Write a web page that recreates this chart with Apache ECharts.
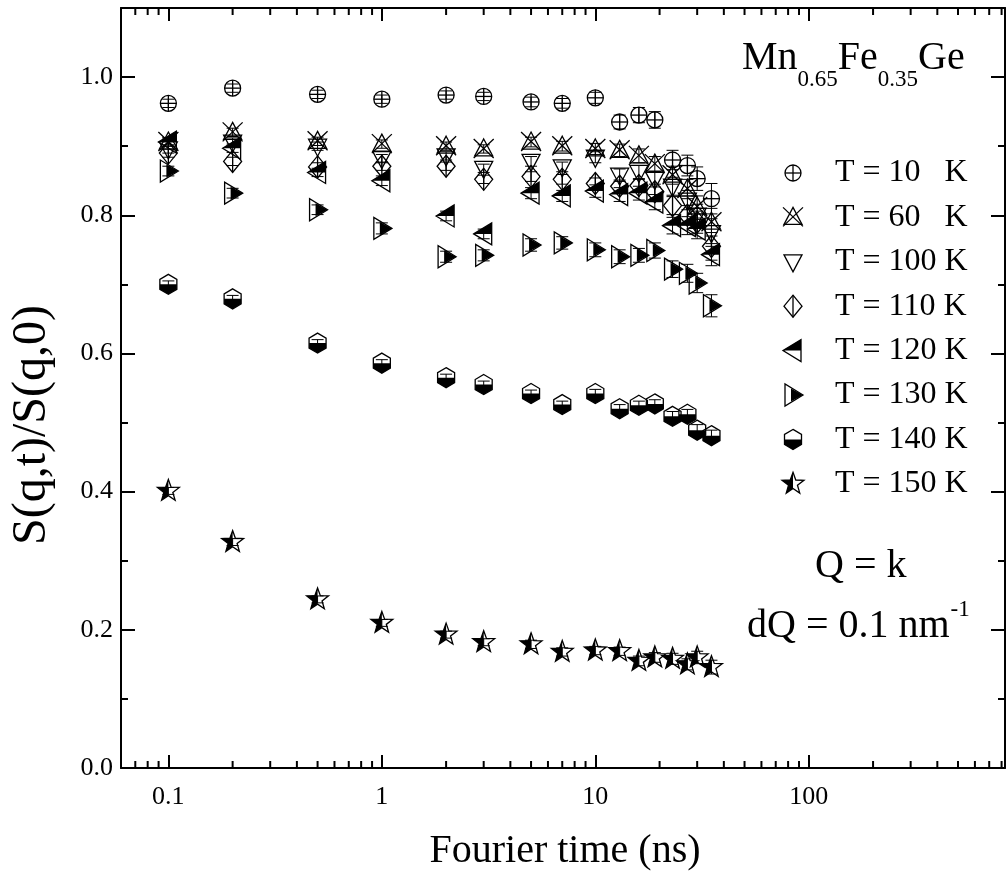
<!DOCTYPE html>
<html><head><meta charset="utf-8">
<script src="https://cdn.jsdelivr.net/npm/echarts@6/dist/echarts.min.js"></script>
<style>html,body{margin:0;padding:0;background:#fff}#c{width:1007px;height:877px}</style>
</head><body><div id="c"></div><script>
// ---------------- data ----------------
const times = [0.1, 0.2, 0.5, 1, 2, 3, 5, 7, 10, 13, 16, 19, 23, 27, 30, 35];
const s10K  = [0.962, 0.984, 0.975, 0.968, 0.974, 0.972, 0.964, 0.962, 0.970, 0.935, 0.945, 0.938, 0.880, 0.872, 0.853, 0.824];
const s60K  = [0.906, 0.920, 0.907, 0.903, 0.900, 0.896, 0.906, 0.900, 0.896, 0.894, 0.886, 0.874, 0.858, 0.838, 0.812, 0.790];
const s100K = [0.896, 0.906, 0.900, 0.882, 0.886, 0.868, 0.878, 0.870, 0.884, 0.858, 0.862, 0.852, 0.842, 0.822, 0.800, 0.775];
const s110K = [0.890, 0.878, 0.870, 0.871, 0.871, 0.852, 0.856, 0.852, 0.846, 0.842, 0.843, 0.834, 0.814, 0.800, 0.790, 0.755];
const s120K = [0.906, 0.897, 0.862, 0.850, 0.799, 0.773, 0.832, 0.828, 0.835, 0.830, 0.832, 0.819, 0.785, 0.785, 0.780, 0.743];
const s130K = [0.864, 0.832, 0.808, 0.781, 0.740, 0.742, 0.757, 0.760, 0.750, 0.740, 0.742, 0.749, 0.722, 0.716, 0.702, 0.669];
const s140K = [0.700, 0.679, 0.615, 0.586, 0.565, 0.555, 0.542, 0.526, 0.542, 0.520, 0.525, 0.527, 0.509, 0.512, 0.489, 0.481];
const s150K = [0.401, 0.327, 0.244, 0.210, 0.193, 0.182, 0.179, 0.168, 0.170, 0.169, 0.155, 0.160, 0.158, 0.150, 0.160, 0.146];
// error bars (half widths)
const e10K  = [0.006, 0.006, 0.006, 0.006, 0.006, 0.006, 0.007, 0.007, 0.008, 0.010, 0.011, 0.012, 0.014, 0.015, 0.017, 0.022];
const e60K  = [0.006, 0.006, 0.006, 0.006, 0.006, 0.006, 0.007, 0.007, 0.008, 0.009, 0.010, 0.011, 0.013, 0.014, 0.016, 0.020];
const e100K = [0.006, 0.006, 0.006, 0.006, 0.006, 0.006, 0.007, 0.007, 0.008, 0.009, 0.010, 0.011, 0.013, 0.014, 0.016, 0.020];
const e110K = [0.006, 0.006, 0.006, 0.006, 0.006, 0.006, 0.007, 0.007, 0.008, 0.009, 0.010, 0.011, 0.013, 0.014, 0.016, 0.020];
const e120K = [0.006, 0.006, 0.006, 0.007, 0.007, 0.007, 0.008, 0.008, 0.009, 0.010, 0.010, 0.011, 0.012, 0.013, 0.014, 0.016];
const e130K = [0.007, 0.007, 0.007, 0.008, 0.008, 0.008, 0.009, 0.009, 0.010, 0.010, 0.010, 0.011, 0.012, 0.013, 0.014, 0.016];
const e140K = [0.005, 0.005, 0.005, 0.005, 0.005, 0.005, 0.005, 0.005, 0.006, 0.006, 0.006, 0.006, 0.007, 0.007, 0.008, 0.008];
const e150K = [0.005, 0.005, 0.005, 0.005, 0.005, 0.005, 0.006, 0.006, 0.006, 0.006, 0.007, 0.007, 0.008, 0.008, 0.009, 0.010];
const seriesNames = ['T = 10   K', 'T = 60   K', 'T = 100 K', 'T = 110 K', 'T = 120 K', 'T = 130 K', 'T = 140 K', 'T = 150 K'];
const xMajorLabels = [0.1, 1, 10, 100];
const xMinorTicks = [0.07, 0.08, 0.09, 0.2, 0.3, 0.4, 0.5, 0.6, 0.7, 0.8, 0.9, 2, 3, 4, 5, 6, 7, 8, 9,
  20, 30, 40, 50, 60, 70, 80, 90, 200, 300, 400, 500, 600, 700, 800];

// ---------------- drawing ----------------
const FONT = '"Liberation Serif","Times New Roman",Times,serif';
const LW = 1.3;
function st(fill) { return { stroke: '#000', lineWidth: LW, fill: fill || 'none' }; }
function starPts(R, r) {
  const p = [];
  for (let k = 0; k < 10; k++) {
    const a = (-90 + 36 * k) * Math.PI / 180;
    const rr = k % 2 === 0 ? R : r;
    p.push([rr * Math.cos(a), rr * Math.sin(a)]);
  }
  return p;
}
function symbolChildren(kind) {
  const c = [];
  switch (kind) {
    case 'circlePlus':
      c.push({ type: 'circle', shape: { cx: 0, cy: 0, r: 8 }, style: st('none') });
      c.push({ type: 'line', shape: { x1: -8, y1: 0, x2: 8, y2: 0 }, style: st() });
      c.push({ type: 'line', shape: { x1: 0, y1: -8, x2: 0, y2: 8 }, style: st() });
      break;
    case 'triX':
      c.push({ type: 'polygon', shape: { points: [[0, -10], [9, 7], [-9, 7]] }, style: st('none') });
      c.push({ type: 'line', shape: { x1: -10, y1: -10, x2: 10, y2: 9 }, style: st() });
      c.push({ type: 'line', shape: { x1: 10, y1: -10, x2: -10, y2: 9 }, style: st() });
      break;
    case 'triDown':
      c.push({ type: 'polygon', shape: { points: [[-9, -7], [9, -7], [0, 10]] }, style: st('none') });
      break;
    case 'diamond':
      c.push({ type: 'polygon', shape: { points: [[0, -11], [9, 0], [0, 11], [-9, 0]] }, style: st('none') });
      c.push({ type: 'line', shape: { x1: 0, y1: -11, x2: 0, y2: 11 }, style: st() });
      break;
    case 'triLeft':
      c.push({ type: 'polygon', shape: { points: [[-10, 0], [8, -11], [8, 0]] }, style: { fill: '#000' } });
      c.push({ type: 'polygon', shape: { points: [[-10, 0], [8, -11], [8, 11]] }, style: st('none') });
      break;
    case 'triRight':
      c.push({ type: 'polygon', shape: { points: [[-2, -6.5], [10, 0], [-2, 6.5]] }, style: { fill: '#000' } });
      c.push({ type: 'polygon', shape: { points: [[10, 0], [-8, -11], [-8, 11]] }, style: st('none') });
      break;
    case 'hex': {
      const w = 8.5;
      c.push({ type: 'polygon', shape: { points: [[-w, 0], [w, 0], [w, 5], [0, 10], [-w, 5]] }, style: { fill: '#000' } });
      c.push({ type: 'polygon', shape: { points: [[0, -10], [w, -5], [w, 5], [0, 10], [-w, 5], [-w, -5]] }, style: st('none') });
      break;
    }
    case 'star': {
      const p = starPts(11.5, 4.7);
      const left = [p[0], p[9], p[8], p[7], p[6], p[5]];
      c.push({ type: 'polygon', shape: { points: left }, style: { fill: '#000' } });
      c.push({ type: 'polygon', shape: { points: p }, style: st('none') });
      break;
    }
  }
  return c;
}
const kinds = ['circlePlus', 'triX', 'triDown', 'diamond', 'triLeft', 'triRight', 'hex', 'star'];
const vals = [s10K, s60K, s100K, s110K, s120K, s130K, s140K, s150K];
const errs = [e10K, e60K, e100K, e110K, e120K, e130K, e140K, e150K];

function makeSeries(i) {
  const kind = kinds[i];
  return {
    type: 'custom', name: seriesNames[i], xAxisIndex: 0, yAxisIndex: 0, z: 10 + i,
    data: times.map((t, j) => [t, vals[i][j], errs[i][j]]),
    renderItem: function (params, api) {
      const x = api.value(0), y = api.value(1), e = api.value(2);
      const p = api.coord([x, y]);
      const top = api.coord([x, y + e])[1];
      const bot = api.coord([x, y - e])[1];
      const ls = { stroke: '#000', lineWidth: 1 };
      return {
        type: 'group', children: [
          { type: 'line', shape: { x1: p[0], y1: top, x2: p[0], y2: bot }, style: ls },
          { type: 'line', shape: { x1: p[0] - 6, y1: top, x2: p[0] + 6, y2: top }, style: ls },
          { type: 'line', shape: { x1: p[0] - 6, y1: bot, x2: p[0] + 6, y2: bot }, style: ls },
          { type: 'group', x: p[0], y: p[1], children: symbolChildren(kind) }
        ]
      };
    }
  };
}

const minorTickSeries = {
  type: 'custom', xAxisIndex: 0, yAxisIndex: 0, silent: true, clip: false, z: 5,
  data: xMinorTicks.map(v => [v, 0.5]),
  renderItem: function (params, api) {
    const cs = params.coordSys;
    const x = api.coord([api.value(0), 0.5])[0];
    const s = { stroke: '#000', lineWidth: 2 };
    return {
      type: 'group', children: [
        { type: 'line', shape: { x1: x, y1: cs.y + cs.height, x2: x, y2: cs.y + cs.height - 7 }, style: s },
        { type: 'line', shape: { x1: x, y1: cs.y, x2: x, y2: cs.y + 7 }, style: s }
      ]
    };
  }
};

// text measuring helper for composed texts (sub/superscripts)
const mctx = document.createElement('canvas').getContext('2d');
function tw(txt, size) { mctx.font = size + 'px ' + FONT; return mctx.measureText(txt).width; }
function composed(x0, segs) {
  const out = []; let x = x0;
  segs.forEach(s => {
    out.push({ type: 'text', x: x, y: s.y, style: { text: s.t, font: s.size + 'px ' + FONT, fill: '#000', align: 'left', verticalAlign: 'middle' } });
    x += tw(s.t, s.size) + (s.gap || 0);
  });
  return out;
}

const graphics = [];
// title formula
composed(742, [
  { t: 'Mn', size: 40, y: 58 }, { t: '0.65', size: 23, y: 80 },
  { t: 'Fe', size: 40, y: 58 }, { t: '0.35', size: 23, y: 80 },
  { t: 'Ge', size: 40, y: 58 }
]).forEach(g => graphics.push(g));
// Q = k
graphics.push({ type: 'text', x: 815, y: 566, style: { text: 'Q = k', font: '40px ' + FONT, fill: '#000', align: 'left', verticalAlign: 'middle' } });
composed(747, [{ t: 'dQ = 0.1 nm', size: 40, y: 626, gap: 1 }, { t: '-1', size: 23, y: 610 }]).forEach(g => graphics.push(g));
// legend
const legendY0 = 173, legendDy = 44.4;
seriesNames.forEach((n, i) => {
  const y = legendY0 + i * legendDy;
  graphics.push({ type: 'group', x: 793, y: y, children: symbolChildren(kinds[i]) });
  graphics.push({ type: 'text', x: 835, y: y, style: { text: n, font: '32px ' + FONT, fill: '#000', align: 'left', verticalAlign: 'middle' } });
});
// axis titles
graphics.push({ type: 'text', x: 565, y: 851, style: { text: 'Fourier time (ns)', font: '40px ' + FONT, fill: '#000', align: 'center', verticalAlign: 'middle' } });
graphics.push({ type: 'text', x: 32, y: 425, rotation: Math.PI / 2, style: { text: 'S(q,t)/S(q,0)', font: '48px ' + FONT, fill: '#000', align: 'center', verticalAlign: 'middle' } });

function axisLineCfg() { return { show: true, onZero: false, lineStyle: { color: '#000', width: 2 } }; }
const xMin = 0.06, xMax = 830;
const option = {
  animation: false,
  backgroundColor: '#fff',
  grid: { left: 121, right: 2, top: 8, bottom: 109, containLabel: false },
  xAxis: [
    {
      type: 'log', position: 'bottom', min: xMin, max: xMax, logBase: 10,
      axisLine: axisLineCfg(), splitLine: { show: false },
      axisTick: { show: true, inside: true, length: 13, lineStyle: { color: '#000', width: 2 } },
      axisLabel: {
        show: true, margin: 16, color: '#000', fontFamily: FONT, fontSize: 26,
        showMinLabel: false, showMaxLabel: false,
        formatter: function (v) { return xMajorLabels.some(m => Math.abs(m - v) / m < 1e-6) ? String(v) : ''; }
      }
    },
    {
      type: 'log', position: 'top', min: xMin, max: xMax, logBase: 10,
      axisLine: axisLineCfg(), splitLine: { show: false },
      axisTick: { show: true, inside: true, length: 13, lineStyle: { color: '#000', width: 2 } },
      axisLabel: { show: false }
    }
  ],
  yAxis: [
    {
      type: 'value', position: 'left', min: 0, max: 1.1, interval: 0.2,
      axisLine: axisLineCfg(), splitLine: { show: false },
      axisTick: { show: true, inside: true, length: 14, lineStyle: { color: '#000', width: 2 } },
      minorTick: { show: true, splitNumber: 2, length: 7, lineStyle: { color: '#000', width: 2 } },
      axisLabel: { show: true, margin: 8, color: '#000', fontFamily: FONT, fontSize: 26, showMaxLabel: false,
        formatter: v => (Math.abs(v * 5 - Math.round(v * 5)) < 1e-6 ? v.toFixed(1) : '') }
    },
    {
      type: 'value', position: 'right', min: 0, max: 1.1, interval: 0.2,
      axisLine: axisLineCfg(), splitLine: { show: false },
      axisTick: { show: true, inside: true, length: 14, lineStyle: { color: '#000', width: 2 } },
      minorTick: { show: true, splitNumber: 2, length: 7, lineStyle: { color: '#000', width: 2 } },
      axisLabel: { show: false }
    }
  ],
  series: [minorTickSeries].concat(kinds.map((k, i) => makeSeries(i))),
  graphic: { elements: graphics }
};
const chart = echarts.init(document.getElementById('c'), null, { renderer: 'canvas' });
chart.setOption(option);
</script></body></html>
